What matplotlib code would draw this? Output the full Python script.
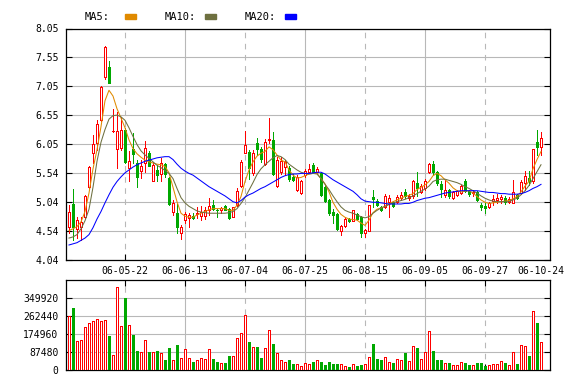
import matplotlib
matplotlib.use("Agg")
import matplotlib.pyplot as plt
import numpy as np
from matplotlib.patches import Rectangle

# daily bars, 06-04-25 .. 06-10-24 (prices)
OPEN = [4.62, 5.01, 4.57, 4.61, 4.79, 5.30, 5.89, 6.06, 6.46, 7.21,
        7.38, 6.27, 5.96, 5.98, 6.29, 5.64, 5.96, 5.72, 5.59, 5.72,
        5.90, 5.40, 5.60, 5.53, 5.70, 5.46, 4.87, 4.86, 4.50, 4.73,
        4.76, 4.80, 4.84, 4.80, 4.80, 4.90, 4.99, 4.91, 4.91, 4.98,
        4.92, 4.78, 4.99, 5.32, 5.90, 5.91, 5.55, 6.06, 5.96, 5.70,
        6.11, 6.12, 5.32, 5.57, 5.65, 5.63, 5.48, 5.25, 5.20, 5.51,
        5.57, 5.69, 5.565, 5.54, 5.31, 5.08, 4.88, 4.83, 4.55, 4.63,
        4.75, 4.72, 4.83, 4.79, 4.50, 4.55, 5.13, 5.07, 4.96, 4.95,
        5.04, 5.05, 5.05, 5.11, 5.21, 5.11, 5.14, 5.37, 5.22, 5.28,
        5.56, 5.70, 5.57, 5.36, 5.17, 5.25, 5.12, 5.17, 5.20, 5.41,
        5.24, 5.20, 5.22, 4.99, 4.98, 4.95, 5.07, 5.08, 5.09, 5.11,
        5.05, 5.03, 5.17, 5.20, 5.38, 5.46, 5.40, 6.08, 6.00]
HIGH = [4.99, 5.27, 4.79, 4.78, 5.17, 5.66, 6.21, 6.47, 7.06, 7.74,
        7.49, 6.65, 6.61, 6.52, 6.32, 5.92, 6.24, 5.77, 5.77, 6.10,
        5.92, 5.74, 5.69, 5.80, 5.72, 5.48, 5.08, 5.01, 4.65, 4.88,
        4.85, 4.85, 4.96, 4.98, 4.95, 5.12, 5.08, 4.92, 4.95, 5.00,
        4.94, 4.96, 5.28, 5.77, 6.28, 5.95, 5.94, 6.15, 6.00, 6.13,
        6.50, 6.25, 5.83, 5.82, 5.77, 5.66, 5.53, 5.51, 5.42, 5.62,
        5.70, 5.72, 5.65, 5.56, 5.36, 5.10, 4.92, 4.85, 4.65, 4.79,
        4.76, 4.91, 4.85, 4.80, 4.58, 5.00, 5.25, 5.10, 4.98, 5.18,
        5.17, 5.07, 5.16, 5.21, 5.27, 5.18, 5.42, 5.57, 5.36, 5.45,
        5.72, 5.76, 5.59, 5.40, 5.43, 5.27, 5.24, 5.26, 5.34, 5.44,
        5.25, 5.26, 5.24, 5.03, 5.03, 5.05, 5.17, 5.18, 5.17, 5.14,
        5.13, 5.43, 5.18, 5.43, 5.58, 5.58, 5.96, 6.29, 6.26]
LOW = [4.50, 4.39, 4.42, 4.39, 4.76, 5.28, 5.72, 5.95, 6.44, 7.17,
       7.10, 6.26, 5.63, 5.95, 5.72, 5.40, 5.72, 5.31, 5.46, 5.57,
       5.66, 5.40, 5.40, 5.40, 5.48, 5.00, 4.82, 4.51, 4.40, 4.68,
       4.61, 4.75, 4.76, 4.73, 4.75, 4.82, 4.91, 4.78, 4.86, 4.90,
       4.75, 4.78, 4.98, 5.31, 5.89, 5.44, 5.51, 5.86, 5.74, 5.69,
       6.06, 5.51, 5.31, 5.53, 5.51, 5.40, 5.40, 5.24, 5.18, 5.48,
       5.55, 5.54, 5.55, 5.15, 5.04, 4.82, 4.68, 4.56, 4.47, 4.62,
       4.70, 4.71, 4.74, 4.44, 4.44, 4.54, 4.96, 4.97, 4.89, 4.94,
       4.79, 4.96, 5.03, 5.08, 5.11, 5.08, 5.12, 5.14, 5.20, 5.26,
       5.55, 5.51, 5.34, 5.13, 5.13, 5.12, 5.10, 5.14, 5.19, 5.22,
       5.14, 5.15, 5.07, 4.91, 4.86, 4.94, 4.99, 5.02, 5.02, 5.01,
       5.02, 5.02, 5.10, 5.18, 5.25, 5.34, 5.38, 5.86, 5.86]
CLOSE = [4.88, 4.61, 4.73, 4.69, 5.14, 5.65, 6.05, 6.39, 7.03, 7.73,
         7.10, 6.28, 6.28, 6.29, 5.74, 5.76, 5.88, 5.48, 5.66, 5.98,
         5.66, 5.69, 5.51, 5.72, 5.53, 5.01, 5.02, 4.61, 4.61, 4.83,
         4.82, 4.76, 4.86, 4.88, 4.90, 4.98, 4.92, 4.90, 4.94, 4.91,
         4.76, 4.95, 5.24, 5.74, 6.03, 5.63, 5.90, 5.96, 5.79, 6.09,
         6.13, 5.53, 5.77, 5.76, 5.73, 5.44, 5.43, 5.47, 5.40, 5.58,
         5.62, 5.56, 5.61, 5.17, 5.06, 4.86, 4.82, 4.58, 4.63, 4.75,
         4.72, 4.90, 4.75, 4.50, 4.56, 4.99, 5.10, 4.99, 4.91, 5.15,
         5.11, 4.98, 5.13, 5.17, 5.14, 5.15, 5.41, 5.28, 5.32, 5.41,
         5.70, 5.56, 5.37, 5.27, 5.25, 5.14, 5.21, 5.24, 5.32, 5.24,
         5.18, 5.22, 5.08, 4.95, 4.94, 5.02, 5.10, 5.11, 5.13, 5.04,
         5.10, 5.21, 5.11, 5.39, 5.50, 5.40, 5.96, 6.00, 6.15]
VOLUME = [262850, 302270, 139640, 144570, 208640, 228350, 238200, 246420, 238200, 243130,
          164280, 69000, 400840, 213560, 351560, 218490, 169210, 90350, 85430, 144570,
          85430, 85430, 90350, 80500, 46000, 105140, 46000, 119920, 55860, 100210,
          55860, 36140, 46000, 55860, 50930, 100210, 50930, 36140, 31210, 31210,
          65710, 65710, 154420, 179070, 267780, 134710, 110070, 110070, 55860, 105140,
          193850, 124850, 80500, 46000, 36140, 46000, 26280, 26280, 16430, 29570,
          26280, 36140, 46000, 36140, 21360, 36140, 26280, 26280, 26280, 16430,
          11500, 26280, 16430, 21360, 26280, 60780, 124850, 50930, 46000, 60780,
          36140, 31210, 50930, 46000, 80500, 41070, 115000, 105140, 50930, 85430,
          188920, 90350, 46000, 46000, 31210, 31210, 21360, 21360, 36140, 31210,
          21360, 21360, 31210, 31210, 16430, 21360, 26280, 26280, 41070, 31210,
          21360, 85430, 26280, 119920, 115000, 65710, 287490, 228350, 134710]

# moving-average lines as drawn on the chart
MA5 = [4.55, 4.58, 4.62, 4.70, 4.88, 5.20, 5.62, 5.95, 6.35, 6.80,
       6.98, 6.88, 6.66, 6.50, 6.33, 6.12, 5.97, 5.88, 5.82, 5.77,
       5.74, 5.72, 5.70, 5.69, 5.66, 5.55, 5.30, 5.05, 4.85, 4.80,
       4.78, 4.78, 4.82, 4.85, 4.88, 4.91, 4.93, 4.93, 4.93, 4.93,
       4.90, 4.90, 4.99, 5.14, 5.40, 5.60, 5.74, 5.84, 5.89, 5.92,
       6.00, 5.95, 5.86, 5.77, 5.74, 5.60, 5.51, 5.46, 5.47, 5.50,
       5.53, 5.54, 5.54, 5.45, 5.36, 5.22, 5.04, 4.92, 4.83, 4.78,
       4.75, 4.74, 4.73, 4.68, 4.64, 4.73, 4.86, 4.92, 4.94, 4.97,
       5.01, 5.05, 5.08, 5.11, 5.14, 5.16, 5.19, 5.26, 5.30, 5.34,
       5.40, 5.50, 5.54, 5.50, 5.43, 5.37, 5.29, 5.24, 5.22, 5.23,
       5.24, 5.20, 5.14, 5.08, 5.04, 5.02, 5.03, 5.04, 5.05, 5.06,
       5.07, 5.10, 5.14, 5.22, 5.32, 5.40, 5.62, 5.78, 5.92]
MA10 = [4.42, 4.44, 4.48, 4.58, 4.72, 4.92, 5.30, 5.75, 6.08, 6.30,
        6.48, 6.54, 6.55, 6.52, 6.46, 6.33, 6.18, 6.04, 5.93, 5.86,
        5.80, 5.74, 5.68, 5.64, 5.59, 5.54, 5.45, 5.28, 5.12, 5.03,
        4.97, 4.93, 4.89, 4.87, 4.86, 4.85, 4.85, 4.85, 4.85, 4.85,
        4.86, 4.88, 4.93, 5.02, 5.12, 5.25, 5.38, 5.52, 5.62, 5.69,
        5.75, 5.81, 5.85, 5.83, 5.78, 5.70, 5.65, 5.60, 5.56, 5.54,
        5.53, 5.54, 5.53, 5.45, 5.35, 5.26, 5.15, 5.05, 4.96, 4.90,
        4.87, 4.85, 4.82, 4.79, 4.77, 4.79, 4.85, 4.90, 4.94, 4.97,
        5.00, 5.03, 5.05, 5.07, 5.09, 5.12, 5.15, 5.19, 5.23, 5.27,
        5.32, 5.40, 5.43, 5.44, 5.44, 5.42, 5.40, 5.38, 5.35, 5.31,
        5.28, 5.24, 5.20, 5.15, 5.11, 5.08, 5.06, 5.05, 5.05, 5.05,
        5.05, 5.08, 5.11, 5.17, 5.24, 5.33, 5.45, 5.57, 5.69]
MA20 = [4.30, 4.32, 4.34, 4.38, 4.42, 4.48, 4.60, 4.75, 4.88, 5.03,
        5.17, 5.30, 5.40, 5.48, 5.55, 5.60, 5.65, 5.69, 5.72, 5.75,
        5.77, 5.79, 5.81, 5.82, 5.83, 5.83, 5.78, 5.70, 5.63, 5.58,
        5.54, 5.51, 5.46, 5.41, 5.36, 5.31, 5.27, 5.23, 5.19, 5.15,
        5.10, 5.05, 5.03, 5.07, 5.13, 5.17, 5.20, 5.24, 5.28, 5.31,
        5.35, 5.39, 5.43, 5.47, 5.50, 5.52, 5.53, 5.53, 5.54, 5.54,
        5.54, 5.55, 5.56, 5.56, 5.53, 5.48, 5.43, 5.39, 5.35, 5.31,
        5.27, 5.23, 5.17, 5.10, 5.06, 5.05, 5.04, 5.04, 5.03, 5.02,
        5.01, 5.01, 5.01, 5.01, 5.02, 5.02, 5.04, 5.07, 5.09, 5.11,
        5.12, 5.14, 5.16, 5.18, 5.20, 5.21, 5.22, 5.23, 5.24, 5.24,
        5.24, 5.24, 5.24, 5.23, 5.22, 5.21, 5.21, 5.20, 5.19, 5.19,
        5.18, 5.18, 5.18, 5.19, 5.21, 5.24, 5.28, 5.31, 5.35]

TICK_BARS = [14, 29, 44, 59, 74, 89, 104, 118]
TICK_LABELS = ["06-05-22", "06-06-13", "06-07-04", "06-07-25",
               "06-08-15", "06-09-05", "06-09-27", "06-10-24"]
PRICE_LABELS = ["4.04", "4.54", "5.04", "5.54", "6.05", "6.55", "7.05", "7.55", "8.05"]
PRICE_MIN, PRICE_MAX = 4.04, 8.05
VOL_STEP = 87480

MA_LINES = [("MA5:", MA5, "#e08a00"), ("MA10:", MA10, "#6e7040"), ("MA20:", MA20, "#0000ff")]

UP = "#ff0000"
DOWN = "#00a800"
GRID = "#b8b8b8"
MONO = "DejaVu Sans Mono"

W, H = 582, 387


def main():
    o = np.array(OPEN)
    h = np.array(HIGH)
    lo = np.array(LOW)
    c = np.array(CLOSE)
    v = np.array(VOLUME)
    n = len(c)
    x = np.arange(n)
    up = c >= o
    edge = np.where(up, UP, DOWN)
    face = np.where(up, "white", DOWN)

    fig = plt.figure(figsize=(W / 100, H / 100), dpi=100)
    ax = fig.add_axes([65.5 / W, 1 - 260 / H, (550 - 65.5) / W, (260 - 28.5) / H])
    axv = fig.add_axes([65.5 / W, 1 - 369.5 / H, (550 - 65.5) / W, (369.5 - 280) / H])

    for a in (ax, axv):
        a.set_xlim(-0.875, n + 1.25)
        for j, t in enumerate(TICK_BARS[:-1]):
            a.axvline(t, color=GRID, lw=0.8, zorder=0,
                      linestyle=(0, (5, 5)) if j % 2 == 0 else "-")
        for s in a.spines.values():
            s.set_linewidth(0.9)
        a.tick_params(direction="in", length=4, width=0.8, right=True,
                      labelsize=7, colors="black")

    # price panel
    ax.set_ylim(PRICE_MIN, PRICE_MAX)
    ax.set_yticks(np.linspace(PRICE_MIN, PRICE_MAX, len(PRICE_LABELS)))
    ax.set_yticklabels(PRICE_LABELS, family=MONO, fontsize=7)
    ax.grid(axis="y", color=GRID, lw=0.8, zorder=0)
    ax.set_xticks(TICK_BARS)
    ax.set_xticklabels(TICK_LABELS, family=MONO, fontsize=7)
    ax.xaxis.get_major_ticks()[-1].tick1line.set_visible(False)
    ax.tick_params(axis="x", pad=4)
    ax.tick_params(axis="y", pad=5)

    ax.vlines(x, lo, h, colors=edge, lw=0.7, zorder=2, antialiased=False)
    ax.bar(x, np.abs(c - o), bottom=np.minimum(o, c), width=0.68,
           color=face, edgecolor=edge, linewidth=0.7, zorder=3, antialiased=False)

    for _, vals, col in MA_LINES:
        ax.plot(x, vals, color=col, lw=0.75, zorder=4)

    # volume panel
    vt = np.arange(0, VOL_STEP * 5, VOL_STEP)
    axv.set_ylim(0, VOL_STEP * 5)
    axv.set_yticks(vt)
    axv.set_yticklabels([str(t) for t in vt], family=MONO, fontsize=7)
    axv.grid(axis="y", color=GRID, lw=0.8, zorder=0)
    axv.set_xticks(TICK_BARS[:-1])
    axv.set_xticklabels([])
    axv.tick_params(axis="x", top=True)
    axv.tick_params(axis="y", pad=5)
    axv.bar(x, v, width=0.68, color=face, edgecolor=edge, linewidth=0.7, zorder=3,
            antialiased=False)

    # legend strip along the top
    for j, (name, _, col) in enumerate(MA_LINES):
        x0 = 85 + 80 * j
        fig.text(x0 / W, 1 - 16.5 / H, name, family=MONO, fontsize=7.5,
                 va="center", ha="left")
        fig.patches.append(Rectangle(((x0 + 40) / W, 1 - 18.5 / H), 11 / W, 4.5 / H,
                                     transform=fig.transFigure, color=col))

    fig.savefig("out.png", dpi=100, facecolor="white")


if __name__ == "__main__":
    main()
